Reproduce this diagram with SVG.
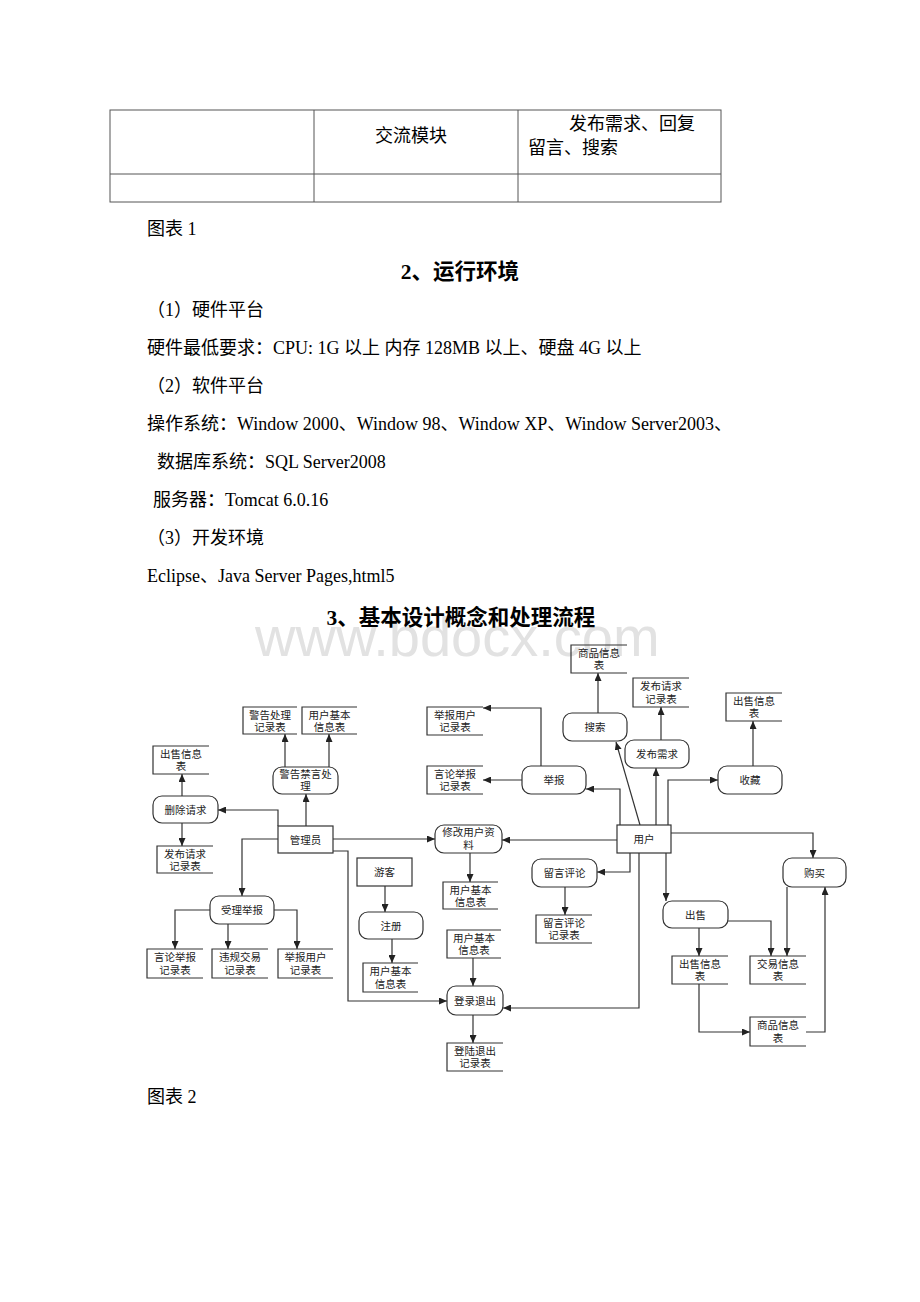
<svg xmlns="http://www.w3.org/2000/svg" width="920" height="1302" viewBox="0 0 920 1302">
<defs>
<marker id="arr" markerUnits="userSpaceOnUse" markerWidth="8" markerHeight="7" refX="8" refY="3.5" orient="auto">
<path d="M0,0 L8,3.5 L0,7 z" fill="#222"/>
</marker>
<style>
.t{font-family:"Liberation Serif","Noto Sans CJK SC",serif;font-size:18px;fill:#000}
.h{font-family:"Liberation Serif","Noto Sans CJK SC",serif;font-size:21.5px;font-weight:bold;text-anchor:middle;fill:#000}
.n{font-family:"Liberation Serif","Noto Sans CJK SC",serif;font-size:10.5px;text-anchor:middle;fill:#222}
.tb{fill:none;stroke:#555;stroke-width:1}
.box{fill:#fff;stroke:#333;stroke-width:1.2}
.st{fill:none;stroke:#333;stroke-width:1.2}
.c{fill:none;stroke:#333;stroke-width:1.2;marker-end:url(#arr)}
.wm{font-family:"Liberation Sans",Arial,sans-serif;font-size:56px;fill:#e2e2e2}
</style>
</defs>
<rect width="920" height="1302" fill="#fff"/>

<g id="table">
<rect class="tb" x="110" y="110" width="611" height="92"/>
<line class="tb" x1="110" y1="174" x2="721" y2="174"/>
<line class="tb" x1="314" y1="110" x2="314" y2="202"/>
<line class="tb" x1="518" y1="110" x2="518" y2="202"/>
<text class="t" x="411" y="142" text-anchor="middle">交流模块</text>
<text class="t" x="569" y="130">发布需求、回复</text>
<text class="t" x="528" y="154">留言、搜索</text>
</g>

<g id="body-text">
<text class="t" x="147" y="235">图表 1</text>
<text class="h" x="460" y="279">2、运行环境</text>
<text class="t" x="147" y="316">（1）硬件平台</text>
<text class="t" x="147" y="354">硬件最低要求：CPU: 1G 以上 内存 128MB 以上、硬盘 4G 以上</text>
<text class="t" x="147" y="392">（2）软件平台</text>
<text class="t" x="147" y="430">操作系统：Window 2000、Window 98、Window XP、Window Server2003、</text>
<text class="t" x="157" y="468">数据库系统：SQL Server2008</text>
<text class="t" x="153" y="506">服务器：Tomcat 6.0.16</text>
<text class="t" x="147" y="544">（3）开发环境</text>
<text class="t" x="147" y="582">Eclipse、Java Server Pages,html5</text>
<text class="wm" x="255" y="656">www.bdocx.com</text>
<text class="h" x="461" y="625">3、基本设计概念和处理流程</text>
<text class="t" x="147" y="1103">图表 2</text>
</g>

<g id="connectors">
<path class="c" d="M306,826 V794"/>
<path class="c" d="M285,767 V734"/>
<path class="c" d="M329,767 V734"/>
<path class="c" d="M278,826 V810 H218"/>
<path class="c" d="M182,796 V774"/>
<path class="c" d="M182,823 V846"/>
<path class="c" d="M278,839 H242 V896"/>
<path class="c" d="M210,910 H175 V949"/>
<path class="c" d="M228,924 V949"/>
<path class="c" d="M274,910 H297 V949"/>
<path class="c" d="M333,839 H435"/>
<path class="c" d="M333,851 H348 V1001 H447"/>
<path class="c" d="M385,886 V912"/>
<path class="c" d="M392,939 V963"/>
<path class="c" d="M470,853 V882"/>
<path class="c" d="M473,958 V986"/>
<path class="c" d="M473,1015 V1043"/>
<path class="c" d="M617,840 H502"/>
<path class="c" d="M639,853 V1008 H503"/>
<path class="c" d="M620,825 V789 H586"/>
<path class="c" d="M640,825 L616,742"/>
<path class="c" d="M656,825 V768"/>
<path class="c" d="M668,825 V780 H718"/>
<path class="c" d="M671,833 H813 V858"/>
<path class="c" d="M630,853 V872 H597"/>
<path class="c" d="M666,853 V901"/>
<path class="c" d="M541,766 V708 H483"/>
<path class="c" d="M522,780 H483"/>
<path class="c" d="M598,713 V673"/>
<path class="c" d="M661,740 V707"/>
<path class="c" d="M753,766 V721"/>
<path class="c" d="M565,887 V915"/>
<path class="c" d="M699,928 V956"/>
<path class="c" d="M728,921 H771 V956"/>
<path class="c" d="M787,887 V956"/>
<path class="c" d="M699,984 V1032 H750"/>
<path class="c" d="M806,1032 H825 V887"/>
</g>

<!-- processes -->
<g id="p-jinggao"><rect class="box" x="273" y="767" width="65" height="27" rx="9"/><text class="n" x="305.5" y="778">警告禁言处</text><text class="n" x="305.5" y="790">理</text></g>
<g id="p-shanchu"><rect class="box" x="153" y="796" width="65" height="27" rx="9"/><text class="n" x="185.5" y="813.5">删除请求</text></g>
<g id="p-shouli"><rect class="box" x="210" y="896" width="64" height="28" rx="9"/><text class="n" x="242" y="914">受理举报</text></g>
<g id="p-xiugai"><rect class="box" x="435" y="825" width="67" height="28" rx="9"/><text class="n" x="468.5" y="836">修改用户资</text><text class="n" x="468.5" y="849">料</text></g>
<g id="p-zhuce"><rect class="box" x="359" y="912" width="64" height="27" rx="9"/><text class="n" x="391" y="929.5">注册</text></g>
<g id="p-denglu"><rect class="box" x="447" y="986" width="56" height="29" rx="9"/><text class="n" x="475" y="1004.5">登录退出</text></g>
<g id="p-sousuo"><rect class="box" x="563" y="713" width="64" height="28" rx="9"/><text class="n" x="595" y="731">搜索</text></g>
<g id="p-fabu"><rect class="box" x="625" y="740" width="64" height="28" rx="9"/><text class="n" x="657" y="758">发布需求</text></g>
<g id="p-jubao"><rect class="box" x="522" y="766" width="64" height="28" rx="9"/><text class="n" x="554" y="784">举报</text></g>
<g id="p-shoucang"><rect class="box" x="718" y="766" width="64" height="28" rx="9"/><text class="n" x="750" y="784">收藏</text></g>
<g id="p-liuyan"><rect class="box" x="532" y="859" width="65" height="28" rx="9"/><text class="n" x="564.5" y="877">留言评论</text></g>
<g id="p-chushou"><rect class="box" x="663" y="901" width="65" height="27" rx="9"/><text class="n" x="695.5" y="918.5">出售</text></g>
<g id="p-goumai"><rect class="box" x="783" y="858" width="63" height="29" rx="9"/><text class="n" x="814.5" y="876.5">购买</text></g>

<!-- external entities -->
<g id="e-admin"><rect class="box" x="278" y="826" width="55" height="27"/><text class="n" x="305.5" y="843.5">管理员</text></g>
<g id="e-user"><rect class="box" x="617" y="825" width="54" height="28"/><text class="n" x="644" y="843">用户</text></g>
<g id="e-guest"><rect class="box" x="357" y="858" width="55" height="28"/><text class="n" x="384.5" y="876">游客</text></g>

<!-- data stores -->
<g id="d-jinggaojilu"><path class="st" d="M297,707 H243 V734 H297"/><text class="n" x="270" y="718.5">警告处理</text><text class="n" x="270" y="731">记录表</text></g>
<g id="d-yonghu1"><path class="st" d="M357,707 H302 V734 H357"/><text class="n" x="329.5" y="718.5">用户基本</text><text class="n" x="329.5" y="731">信息表</text></g>
<g id="d-chushou1"><path class="st" d="M209,746 H153 V774 H209"/><text class="n" x="181" y="757.5">出售信息</text><text class="n" x="181" y="770">表</text></g>
<g id="d-fabu1"><path class="st" d="M213,846 H157 V873 H213"/><text class="n" x="185" y="857.5">发布请求</text><text class="n" x="185" y="870">记录表</text></g>
<g id="d-yanlun1"><path class="st" d="M203,949 H147 V978 H203"/><text class="n" x="175" y="960.5">言论举报</text><text class="n" x="175" y="974">记录表</text></g>
<g id="d-weigui"><path class="st" d="M268,949 H212 V978 H268"/><text class="n" x="240" y="960.5">违规交易</text><text class="n" x="240" y="974">记录表</text></g>
<g id="d-jubaoyh1"><path class="st" d="M333,949 H278 V978 H333"/><text class="n" x="305.5" y="960.5">举报用户</text><text class="n" x="305.5" y="974">记录表</text></g>
<g id="d-yonghu2"><path class="st" d="M418,963 H363 V992 H418"/><text class="n" x="390.5" y="974.5">用户基本</text><text class="n" x="390.5" y="988">信息表</text></g>
<g id="d-yonghu3"><path class="st" d="M498,882 H443 V909 H498"/><text class="n" x="470.5" y="893.5">用户基本</text><text class="n" x="470.5" y="906">信息表</text></g>
<g id="d-yonghu4"><path class="st" d="M501,930 H447 V958 H501"/><text class="n" x="474" y="941.5">用户基本</text><text class="n" x="474" y="954">信息表</text></g>
<g id="d-denglujilu"><path class="st" d="M503,1043 H447 V1071 H503"/><text class="n" x="475" y="1054.5">登陆退出</text><text class="n" x="475" y="1067">记录表</text></g>
<g id="d-shangpin1"><path class="st" d="M627,645 H571 V673 H627"/><text class="n" x="599" y="656.5">商品信息</text><text class="n" x="599" y="669">表</text></g>
<g id="d-fabu2"><path class="st" d="M689,678 H633 V707 H689"/><text class="n" x="661" y="689.5">发布请求</text><text class="n" x="661" y="703">记录表</text></g>
<g id="d-chushou2"><path class="st" d="M782,693 H726 V721 H782"/><text class="n" x="754" y="704.5">出售信息</text><text class="n" x="754" y="717">表</text></g>
<g id="d-jubaoyh2"><path class="st" d="M483,707 H427 V735 H483"/><text class="n" x="455" y="718.5">举报用户</text><text class="n" x="455" y="731">记录表</text></g>
<g id="d-yanlun2"><path class="st" d="M483,766 H427 V794 H483"/><text class="n" x="455" y="777.5">言论举报</text><text class="n" x="455" y="790">记录表</text></g>
<g id="d-liuyanjilu"><path class="st" d="M592,915 H536 V943 H592"/><text class="n" x="564" y="926.5">留言评论</text><text class="n" x="564" y="939">记录表</text></g>
<g id="d-chushou3"><path class="st" d="M728,956 H672 V984 H728"/><text class="n" x="700" y="967.5">出售信息</text><text class="n" x="700" y="980">表</text></g>
<g id="d-jiaoyi"><path class="st" d="M806,956 H750 V984 H806"/><text class="n" x="778" y="967.5">交易信息</text><text class="n" x="778" y="980">表</text></g>
<g id="d-shangpin2"><path class="st" d="M806,1017 H750 V1046 H806"/><text class="n" x="778" y="1028.5">商品信息</text><text class="n" x="778" y="1042">表</text></g>
</svg>
